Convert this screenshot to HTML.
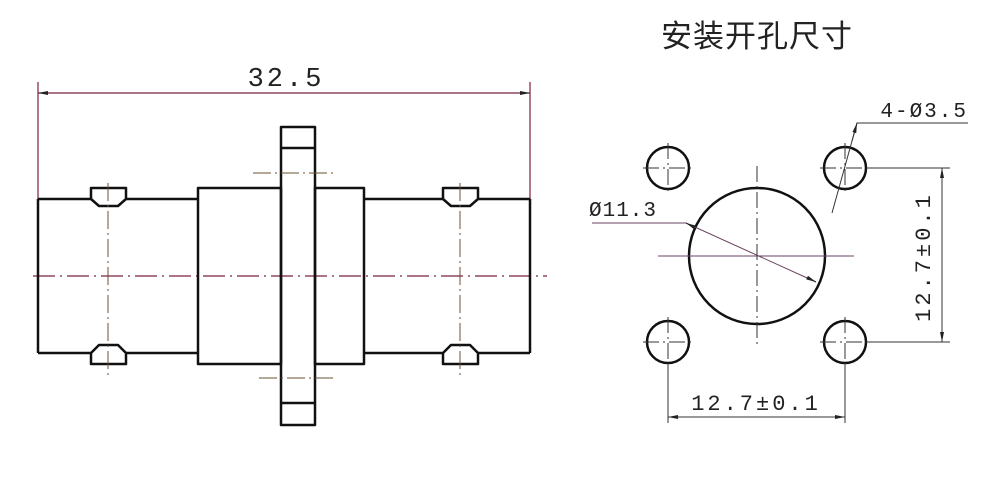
<!DOCTYPE html>
<html><head><meta charset="utf-8"><style>
html,body{margin:0;padding:0;background:#fff;width:1000px;height:479px;overflow:hidden}
svg{display:block}
text{font-family:"Liberation Mono","Noto Sans CJK SC",monospace;fill:#222}
</style></head><body>
<svg width="1000" height="479" viewBox="0 0 1000 479" xmlns="http://www.w3.org/2000/svg">
<defs>
<marker id="ar" viewBox="0 0 10 4" refX="10" refY="2" markerWidth="10" markerHeight="4" orient="auto-start-reverse" markerUnits="userSpaceOnUse"><path d="M0,0 L10,2 L0,4z" fill="#222"/></marker>
</defs>
<text x="757" y="47" font-size="31" text-anchor="middle" style="font-family:'Noto Sans CJK SC',sans-serif;letter-spacing:1px">安装开孔尺寸</text>
<g stroke="#7a2040" stroke-width="1.2" fill="none">
<line x1="38" y1="82" x2="38" y2="199"/>
<line x1="530" y1="82" x2="530" y2="199"/>
<line x1="38" y1="93" x2="530" y2="93" marker-start="url(#ar)" marker-end="url(#ar)"/>
<line x1="33" y1="276" x2="547" y2="276" stroke-dasharray="22,5,2,5"/>
</g>
<text x="286" y="86" font-size="27" text-anchor="middle" style="letter-spacing:3px">32.5</text>
<g stroke="#111" stroke-width="2.5" fill="none" stroke-linejoin="round">
<line x1="38" y1="199" x2="38" y2="353"/>
<line x1="530" y1="199" x2="530" y2="353"/>
<line x1="38" y1="199" x2="91" y2="199"/><line x1="126" y1="199" x2="198" y2="199"/>
<line x1="38" y1="353" x2="91" y2="353"/><line x1="126" y1="353" x2="198" y2="353"/>
<line x1="364" y1="199" x2="443" y2="199"/><line x1="478" y1="199" x2="530" y2="199"/>
<line x1="364" y1="353" x2="443" y2="353"/><line x1="478" y1="353" x2="530" y2="353"/>
<path d="M91,199 L91,188 L126,188 L126,199 L118,206 L99,206 Z"/>
<path d="M91,353 L91,364 L126,364 L126,353 L118,345 L99,345 Z"/>
<path d="M443,199 L443,188 L478,188 L478,199 L470,206 L451,206 Z"/>
<path d="M443,353 L443,364 L478,364 L478,353 L470,345 L451,345 Z"/>
<rect x="198" y="188" width="83" height="176"/>
<rect x="315" y="188" width="49" height="176"/>
<rect x="281" y="127" width="34" height="298"/>
<line x1="281" y1="148" x2="315" y2="148"/>
<line x1="281" y1="403" x2="315" y2="403"/>
</g>
<g stroke="#6a5030" stroke-width="1" fill="none" stroke-dasharray="18,4,2,4">
<line x1="108" y1="183" x2="108" y2="378"/>
<line x1="460" y1="183" x2="460" y2="378"/>
<line x1="253" y1="173" x2="336" y2="173"/>
<line x1="259" y1="378" x2="335" y2="378"/>
</g>
<g stroke="#111" stroke-width="2.5" fill="none">
<circle cx="757" cy="256" r="68"/>
<circle cx="668" cy="168" r="21"/>
<circle cx="845" cy="168" r="21"/>
<circle cx="668" cy="342" r="21"/>
<circle cx="845" cy="342" r="21"/>
</g>
<g stroke="#333" stroke-width="1" fill="none" stroke-dasharray="16,4,2,4">
<line x1="757" y1="166" x2="757" y2="346"/>
<line x1="643" y1="168" x2="693" y2="168"/><line x1="668" y1="143" x2="668" y2="193"/>
<line x1="820" y1="168" x2="870" y2="168"/><line x1="845" y1="143" x2="845" y2="193"/>
<line x1="643" y1="342" x2="693" y2="342"/><line x1="668" y1="317" x2="668" y2="367"/>
<line x1="820" y1="342" x2="870" y2="342"/><line x1="845" y1="317" x2="845" y2="367"/>
</g>
<g stroke="#333" stroke-width="1" fill="none">
<line x1="658" y1="256" x2="854" y2="256" stroke="#6a4060"/>
<polyline points="592,223 686,223 816,282" stroke="#6a4060"/>
<line x1="686" y1="223" x2="692" y2="226" marker-start="url(#ar)"/>
<line x1="810" y1="279" x2="816" y2="282" marker-end="url(#ar)"/>
<polyline points="968,123 857,123 832,213"/>
<line x1="857" y1="123" x2="852" y2="141" marker-start="url(#ar)"/>
<line x1="866" y1="168" x2="950" y2="168"/>
<line x1="866" y1="342" x2="950" y2="342"/>
<line x1="942" y1="168" x2="942" y2="342" marker-start="url(#ar)" marker-end="url(#ar)"/>
<line x1="668" y1="363" x2="668" y2="423"/>
<line x1="845" y1="363" x2="845" y2="423"/>
<line x1="668" y1="417" x2="845" y2="417" marker-start="url(#ar)" marker-end="url(#ar)"/>
</g>
<text x="589" y="216" font-size="21" style="letter-spacing:1px">Ø11.3</text>
<text x="968" y="117" font-size="21" text-anchor="end" style="letter-spacing:2px">4-Ø3.5</text>
<text x="756" y="410" font-size="22" text-anchor="middle" style="letter-spacing:3px">12.7±0.1</text>
<text x="0" y="0" font-size="22" text-anchor="middle" transform="translate(930,257) rotate(-90)" style="letter-spacing:3px">12.7±0.1</text>
</svg>
</body></html>
